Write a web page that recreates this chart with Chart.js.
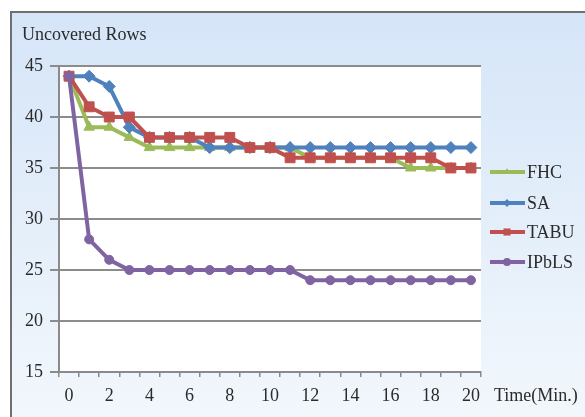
<!DOCTYPE html>
<html>
<head>
<meta charset="utf-8">
<script src="https://cdn.jsdelivr.net/npm/chart.js@4.4.0/dist/chart.umd.min.js"></script>
<style>
html,body{margin:0;padding:0;background:#fff;}
#wrap{width:585px;height:417px;position:relative;}
</style>
</head>
<body>
<div id="wrap"><canvas id="chart" width="585" height="417"></canvas></div>
<script>
/* Data */
const times=["0","1","2","3","4","5","6","7","8","9","10","11","12","13","14","15","16","17","18","19","20"];
const fhc  =[44,39,39,38,37,37,37,37,37,37,37,37,36,36,36,36,36,35,35,35,35];
const sa   =[44,44,43,39,38,38,38,37,37,37,37,37,37,37,37,37,37,37,37,37,37];
const tabu =[44,41,40,40,38,38,38,38,38,37,37,36,36,36,36,36,36,36,36,35,35];
const ipbls=[44,28,26,25,25,25,25,25,25,25,25,25,24,24,24,24,24,24,24,24,24];
const yTicks=[15,20,25,30,35,40,45];

const FONT="'Liberation Serif','Times New Roman',serif";
const TXT="#2b2b2b";

/* Background frame + white plot area + custom legend */
const framePlugin={
id:"frame",
beforeDraw(chart){
const ctx=chart.ctx;
const a=chart.chartArea;
ctx.save();
const g=ctx.createLinearGradient(0,11,0,417);
g.addColorStop(0,"#d5e5f8");
g.addColorStop(1,"#f2f7fc");
ctx.fillStyle=g;
ctx.fillRect(10,11,575,406);
ctx.strokeStyle="#6f6f6f";
ctx.lineWidth=2;
ctx.beginPath();
ctx.moveTo(11,417);ctx.lineTo(11,12);ctx.lineTo(585,12);
ctx.stroke();
ctx.fillStyle="#ffffff";
ctx.fillRect(a.left,a.top,a.right-a.left,a.bottom-a.top);
ctx.restore();
},
afterDraw(chart){
const ctx=chart.ctx;
ctx.save();
ctx.fillStyle=TXT;
ctx.font="18px "+FONT;
ctx.textBaseline="middle";
ctx.textAlign="left";
ctx.fillText("Uncovered Rows",22,35);
ctx.fillText("Time(Min.)",494,396);
/* legend */
const ys=[172,203,232,262];
chart.data.datasets.forEach((ds,i)=>{
const y=ys[i];
ctx.strokeStyle=ds.borderColor;
ctx.lineWidth=4;
ctx.beginPath();ctx.moveTo(490,y);ctx.lineTo(525,y);ctx.stroke();
ctx.fillStyle=ds.borderColor;
Chart.helpers.drawPoint(ctx,{pointStyle:ds.pointStyle,radius:ds.pointStyle==="rect"?5:4,rotation:0,borderWidth:0},507,y);
ctx.fillStyle=TXT;
ctx.fillText(ds.label,527,y+1);
});
ctx.restore();
}
};

function series(label,data,color,style,order,radius){
return{
label:label,
data:data,
borderColor:color,
backgroundColor:color,
pointBackgroundColor:color,
pointBorderColor:color,
pointStyle:style,
pointRadius:radius,
pointBorderWidth:1,
borderWidth:4,
tension:0,
fill:false,
order:order
};
}

new Chart(document.getElementById("chart"),{
type:"line",
data:{
labels:times,
datasets:[
series("FHC",fhc,"#9bbb59","triangle",4,6),
series("SA",sa,"#4f81bd","rectRot",3,6),
series("TABU",tabu,"#c0504d","rect",2,7),
series("IPbLS",ipbls,"#8064a2","circle",1,4.5)
]
},
options:{
responsive:false,
animation:false,
layout:{padding:{left:12,top:66,right:104,bottom:0}},
plugins:{legend:{display:false},tooltip:{enabled:false}},
scales:{
x:{
offset:true,
border:{display:true,color:"#8a8a8a",width:2},
grid:{display:true,drawOnChartArea:false,drawTicks:true,tickLength:5,offset:true,color:"#8a8a8a",lineWidth:1.5},
ticks:{
color:TXT,
font:{family:FONT,size:18},
padding:8,
maxRotation:0,
autoSkip:false,
callback:function(v,i){return i%2===0?times[i]:"";}
},
afterFit(s){s.height=45;}
},
y:{
min:15,
max:45,
afterBuildTicks(s){s.ticks=yTicks.map(v=>({value:v}));},
border:{display:true,color:"#8a8a8a",width:2},
grid:{color:"#8c8c8c",lineWidth:2,tickLength:9,drawTicks:true},
ticks:{color:TXT,font:{family:FONT,size:18},padding:7},
afterFit(s){s.width=47;}
}
}
},
plugins:[framePlugin]
});
</script>
</body>
</html>
